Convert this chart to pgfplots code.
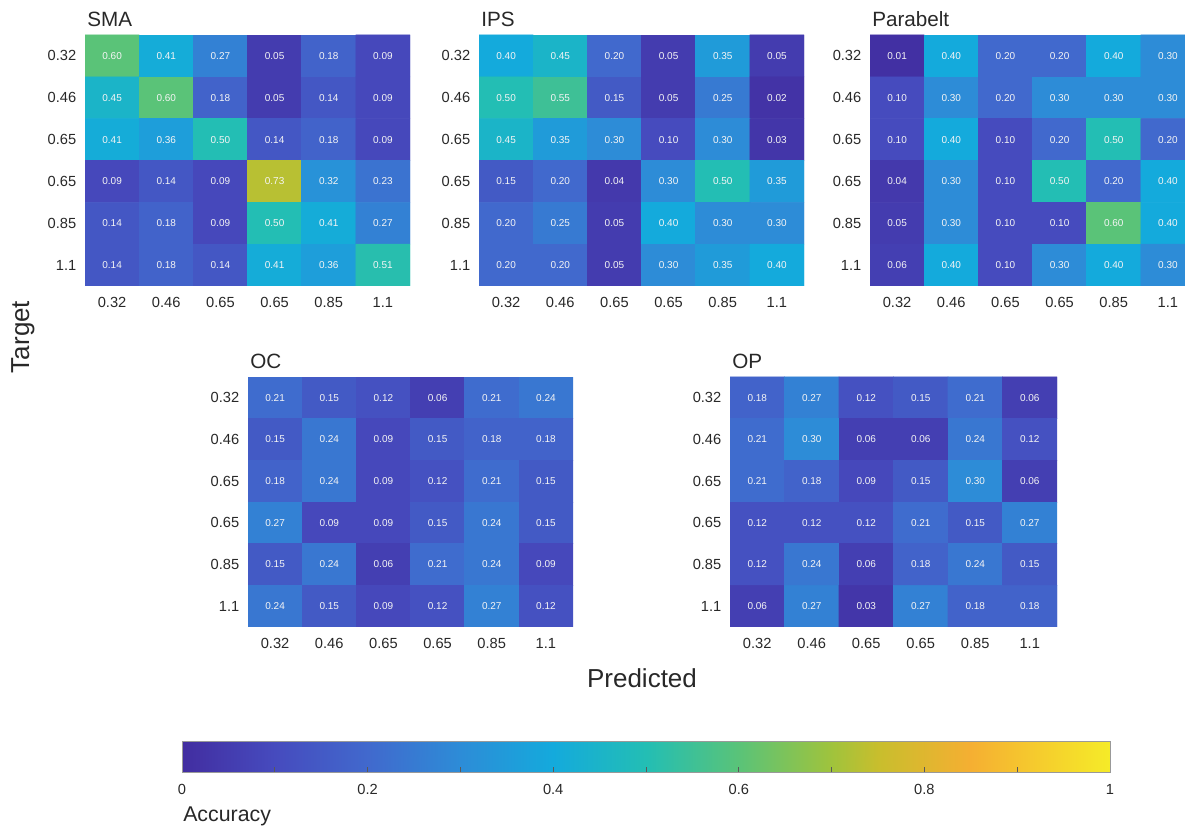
\documentclass[border=0pt]{standalone}
\usepackage{fontspec}
\setmainfont{Liberation Sans}
\usepackage{pgfplots}
\pgfplotsset{compat=1.18}
\pgfkeys{/pgf/number format/assume math mode=true}
\definecolor{lab}{RGB}{40,40,40}
\pgfplotsset{
  colormap={parulaimg}{
    rgb255(0pt)=(66,45,160);
    rgb255(10pt)=(70,75,190);
    rgb255(20pt)=(65,105,205);
    rgb255(30pt)=(45,140,215);
    rgb255(40pt)=(20,170,220);
    rgb255(50pt)=(35,190,180);
    rgb255(60pt)=(90,195,120);
    rgb255(70pt)=(160,195,60);
    rgb255(75pt)=(200,190,45);
    rgb255(85pt)=(245,175,50);
    rgb255(100pt)=(245,235,40)
  },
  hm/.style={
    scale only axis, width=243.75pt, height=188.25pt,
    xmin=-0.5, xmax=5.5, ymin=-0.5, ymax=5.5, y dir=reverse,
    enlargelimits=false,
    xtick={0,...,5}, ytick={0,...,5},
    xticklabels={0.32,0.46,0.65,0.65,0.85,1.1},
    yticklabels={0.32,0.46,0.65,0.65,0.85,1.1},
    major tick length=0pt, tick style={draw=none},
    axis line style={draw=none},
    tick label style={font=\fontsize{11}{13}\selectfont, text=lab},
    xticklabel style={yshift=-5pt},
    yticklabel style={xshift=-3pt},
    title style={at={(0,1)}, anchor=base west, yshift=0.5pt, inner xsep=1.5pt, inner ysep=0pt,
      font=\fontsize{15.5}{18}\selectfont, text=lab},
    colormap name=parulaimg, point meta min=0, point meta max=1,
    nodes near coords={\pgfmathprintnumber[fixed,fixed zerofill,precision=2]{\pgfplotspointmeta}},
    every node near coord/.append style={anchor=center, font=\fontsize{7.5}{9}\selectfont, text=white!92!gray},
  },
  cell/.style={matrix plot*, mesh/cols=6, point meta=explicit},
}
\begin{document}
\begin{tikzpicture}
% SMA
\begin{axis}[hm, at={(63.75pt,408pt)}, anchor=south west, title={SMA}]
\addplot[cell] coordinates {
(0,0)[0.60] (1,0)[0.41] (2,0)[0.27] (3,0)[0.05] (4,0)[0.18] (5,0)[0.09]
(0,1)[0.45] (1,1)[0.60] (2,1)[0.18] (3,1)[0.05] (4,1)[0.14] (5,1)[0.09]
(0,2)[0.41] (1,2)[0.36] (2,2)[0.50] (3,2)[0.14] (4,2)[0.18] (5,2)[0.09]
(0,3)[0.09] (1,3)[0.14] (2,3)[0.09] (3,3)[0.73] (4,3)[0.32] (5,3)[0.23]
(0,4)[0.14] (1,4)[0.18] (2,4)[0.09] (3,4)[0.50] (4,4)[0.41] (5,4)[0.27]
(0,5)[0.14] (1,5)[0.18] (2,5)[0.14] (3,5)[0.41] (4,5)[0.36] (5,5)[0.51]
};
\end{axis}
% IPS
\begin{axis}[hm, at={(359.25pt,408pt)}, anchor=south west, title={IPS}]
\addplot[cell] coordinates {
(0,0)[0.40] (1,0)[0.45] (2,0)[0.20] (3,0)[0.05] (4,0)[0.35] (5,0)[0.05]
(0,1)[0.50] (1,1)[0.55] (2,1)[0.15] (3,1)[0.05] (4,1)[0.25] (5,1)[0.02]
(0,2)[0.45] (1,2)[0.35] (2,2)[0.30] (3,2)[0.10] (4,2)[0.30] (5,2)[0.03]
(0,3)[0.15] (1,3)[0.20] (2,3)[0.04] (3,3)[0.30] (4,3)[0.50] (5,3)[0.35]
(0,4)[0.20] (1,4)[0.25] (2,4)[0.05] (3,4)[0.40] (4,4)[0.30] (5,4)[0.30]
(0,5)[0.20] (1,5)[0.20] (2,5)[0.05] (3,5)[0.30] (4,5)[0.35] (5,5)[0.40]
};
\end{axis}
% Parabelt
\begin{axis}[hm, at={(652.5pt,408pt)}, anchor=south west, title={Parabelt}]
\addplot[cell] coordinates {
(0,0)[0.01] (1,0)[0.40] (2,0)[0.20] (3,0)[0.20] (4,0)[0.40] (5,0)[0.30]
(0,1)[0.10] (1,1)[0.30] (2,1)[0.20] (3,1)[0.30] (4,1)[0.30] (5,1)[0.30]
(0,2)[0.10] (1,2)[0.40] (2,2)[0.10] (3,2)[0.20] (4,2)[0.50] (5,2)[0.20]
(0,3)[0.04] (1,3)[0.30] (2,3)[0.10] (3,3)[0.50] (4,3)[0.20] (5,3)[0.40]
(0,4)[0.05] (1,4)[0.30] (2,4)[0.10] (3,4)[0.10] (4,4)[0.60] (5,4)[0.40]
(0,5)[0.06] (1,5)[0.40] (2,5)[0.10] (3,5)[0.30] (4,5)[0.40] (5,5)[0.30]
};
\end{axis}
% OC
\begin{axis}[hm, height=187.5pt, at={(186pt,152.25pt)}, anchor=south west, title={OC}]
\addplot[cell] coordinates {
(0,0)[0.21] (1,0)[0.15] (2,0)[0.12] (3,0)[0.06] (4,0)[0.21] (5,0)[0.24]
(0,1)[0.15] (1,1)[0.24] (2,1)[0.09] (3,1)[0.15] (4,1)[0.18] (5,1)[0.18]
(0,2)[0.18] (1,2)[0.24] (2,2)[0.09] (3,2)[0.12] (4,2)[0.21] (5,2)[0.15]
(0,3)[0.27] (1,3)[0.09] (2,3)[0.09] (3,3)[0.15] (4,3)[0.24] (5,3)[0.15]
(0,4)[0.15] (1,4)[0.24] (2,4)[0.06] (3,4)[0.21] (4,4)[0.24] (5,4)[0.09]
(0,5)[0.24] (1,5)[0.15] (2,5)[0.09] (3,5)[0.12] (4,5)[0.27] (5,5)[0.12]
};
\end{axis}
% OP
\begin{axis}[hm, height=187.5pt, width=245.25pt, at={(547.5pt,152.25pt)}, anchor=south west, title={OP}]
\addplot[cell] coordinates {
(0,0)[0.18] (1,0)[0.27] (2,0)[0.12] (3,0)[0.15] (4,0)[0.21] (5,0)[0.06]
(0,1)[0.21] (1,1)[0.30] (2,1)[0.06] (3,1)[0.06] (4,1)[0.24] (5,1)[0.12]
(0,2)[0.21] (1,2)[0.18] (2,2)[0.09] (3,2)[0.15] (4,2)[0.30] (5,2)[0.06]
(0,3)[0.12] (1,3)[0.12] (2,3)[0.12] (3,3)[0.21] (4,3)[0.15] (5,3)[0.27]
(0,4)[0.12] (1,4)[0.24] (2,4)[0.06] (3,4)[0.18] (4,4)[0.24] (5,4)[0.15]
(0,5)[0.06] (1,5)[0.27] (2,5)[0.03] (3,5)[0.27] (4,5)[0.18] (5,5)[0.18]
};
\end{axis}
% colorbar
\begin{axis}[
  at={(136.5pt,43.5pt)}, anchor=south west, scale only axis,
  width=696pt, height=23.25pt,
  xmin=0, xmax=1, ymin=0, ymax=1, enlargelimits=false,
  colormap name=parulaimg, point meta min=0, point meta max=1,
  xtick={0,0.2,0.4,0.6,0.8,1},
  xticklabels={0,0.2,0.4,0.6,0.8,1},
  minor xtick={0.1,0.3,0.5,0.7,0.9},
  ytick=\empty,
  xtick pos=left,
  tick align=inside, major tick length=4pt, minor tick length=4pt,
  tick style={draw=black!65, line width=0.5pt},
  axis line style={draw=black!40, line width=0.5pt},
  xticklabel style={font=\fontsize{11}{13}\selectfont, text=lab, yshift=-6pt},
  axis on top,
  ]
\addplot[surf, shader=interp, mesh/cols=11, point meta=x] coordinates {
(0,0) (0.1,0) (0.2,0) (0.3,0) (0.4,0) (0.5,0) (0.6,0) (0.7,0) (0.8,0) (0.9,0) (1,0)
(0,1) (0.1,1) (0.2,1) (0.3,1) (0.4,1) (0.5,1) (0.6,1) (0.7,1) (0.8,1) (0.9,1) (1,1)
};
\end{axis}
\node[anchor=base, rotate=90, font=\fontsize{19.5}{22}\selectfont, text=lab] at (21.75pt,369.75pt) {Target};
\node[anchor=base, font=\fontsize{19.5}{22}\selectfont, text=lab] at (481.5pt,106.5pt) {Predicted};
\node[anchor=base west, inner sep=0pt, font=\fontsize{16}{18}\selectfont, text=lab] at (137.25pt,6pt) {Accuracy};
\pgfresetboundingbox
\useasboundingbox (0,0) rectangle (888.75pt,622.5pt);
\end{tikzpicture}
\end{document}
